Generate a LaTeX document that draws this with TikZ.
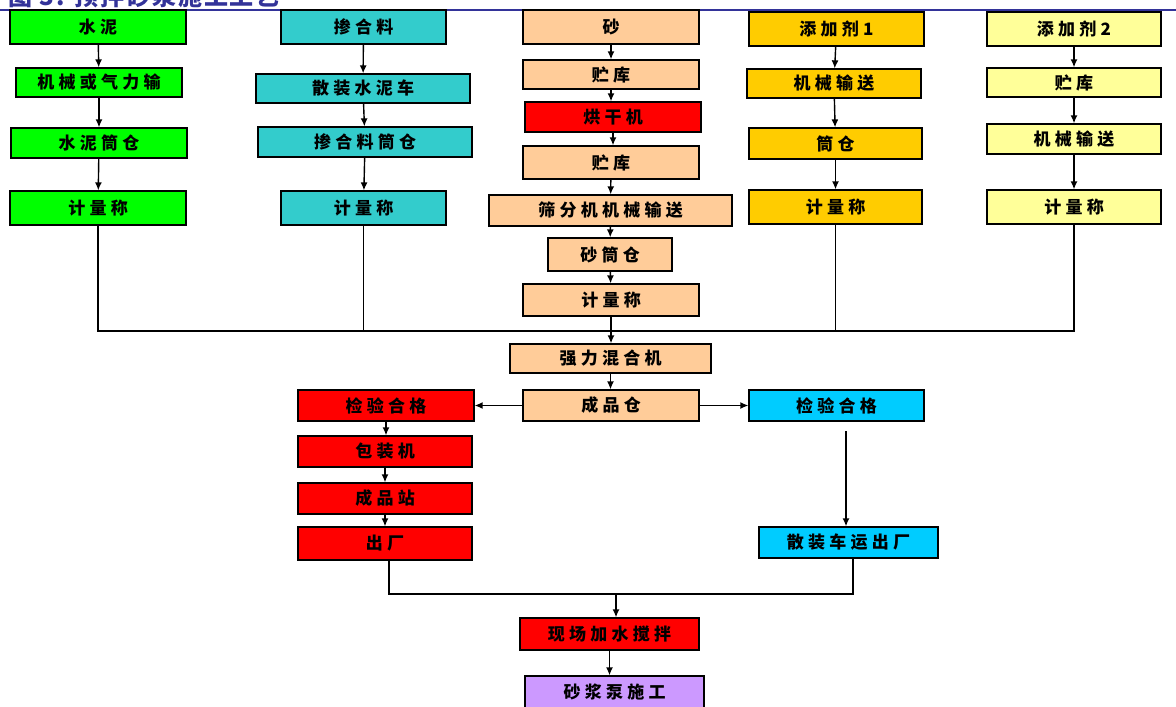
\documentclass[tikz,border=0pt]{standalone}
\usepackage{fontspec}
\setmainfont{Noto Sans CJK SC}[LetterSpace=25]
\newfontfamily\titlefont{Noto Sans CJK SC}[LetterSpace=8]
\usetikzlibrary{arrows.meta}
\definecolor{cgreen}{HTML}{00FF00}
\definecolor{cteal}{HTML}{33CCCC}
\definecolor{cpeach}{HTML}{FFCC99}
\definecolor{cred}{HTML}{FF0000}
\definecolor{cgold}{HTML}{FFCC00}
\definecolor{cyell}{HTML}{FFFF99}
\definecolor{csky}{HTML}{00CCFF}
\definecolor{cpurple}{HTML}{CC99FF}
\definecolor{ctitle}{HTML}{333399}
\tikzset{
  box/.style={draw=black, line width=1.3pt, inner sep=0pt, font=\bfseries\fontsize{17}{17}\selectfont},
  conn/.style={line width=1.4pt, black},
  arr/.style={conn, -{Latex[length=8pt,width=7pt]}}
}
\begin{document}
\begin{tikzpicture}[x=1pt,y=-1pt]
\useasboundingbox (0,0) rectangle (1176,707);
% title (partly cut off, as in the reference)
\node[anchor=south west, inner sep=0pt, text=ctitle, font=\titlefont\bfseries\fontsize{24}{24}\selectfont] (title) at (8,8) {图 3: 预拌砂浆施工工艺};
\draw[ctitle, line width=2pt] (0,9.5) -- (1176,9.5);
% column 1
\node[box, fill=cgreen, minimum width=176, minimum height=34] (c1) at (98,27) {水泥};
\node[box, fill=cgreen, minimum width=166, minimum height=29] (c2) at (99,82.5) {机械或气力输};
\node[box, fill=cgreen, minimum width=176, minimum height=30] (c3) at (99,143) {水泥筒仓};
\node[box, fill=cgreen, minimum width=176, minimum height=34] (c4) at (98,208) {计量称};
% column 2
\node[box, fill=cteal, minimum width=165, minimum height=34] (a1) at (363.5,27) {掺合料};
\node[box, fill=cteal, minimum width=214, minimum height=29] (a2) at (363,88.5) {散装水泥车};
\node[box, fill=cteal, minimum width=214, minimum height=30] (a3) at (365,142) {掺合料筒仓};
\node[box, fill=cteal, minimum width=165, minimum height=34] (a4) at (363.5,208) {计量称};
% column 3
\node[box, fill=cpeach, minimum width=176, minimum height=34] (s1) at (611,27) {砂};
\node[box, fill=cpeach, minimum width=176, minimum height=29] (s2) at (611,74.5) {贮库};
\node[box, fill=cred, minimum width=176, minimum height=30] (s3) at (613,117) {烘干机};
\node[box, fill=cpeach, minimum width=176, minimum height=33] (s4) at (611,162.5) {贮库};
\node[box, fill=cpeach, minimum width=243, minimum height=31] (s5) at (610.5,210.5) {筛分机机械输送};
\node[box, fill=cpeach, minimum width=124, minimum height=33] (s6) at (610,254.5) {砂筒仓};
\node[box, fill=cpeach, minimum width=176, minimum height=32] (s7) at (611,300) {计量称};
% column 4
\node[box, fill=cgold, minimum width=175, minimum height=34] (d1) at (836.5,29) {添加剂1};
\node[box, fill=cgold, minimum width=174, minimum height=29] (d2) at (834,83.5) {机械输送};
\node[box, fill=cgold, minimum width=173, minimum height=31] (d3) at (835.5,143.5) {筒仓};
\node[box, fill=cgold, minimum width=173, minimum height=34] (d4) at (835.5,207) {计量称};
% column 5
\node[box, fill=cyell, minimum width=174, minimum height=34] (e1) at (1074,29) {添加剂2};
\node[box, fill=cyell, minimum width=174, minimum height=29] (e2) at (1074,82.5) {贮库};
\node[box, fill=cyell, minimum width=174, minimum height=30] (e3) at (1074,139) {机械输送};
\node[box, fill=cyell, minimum width=174, minimum height=34] (e4) at (1074,207) {计量称};
% lower part
\node[box, fill=cpeach, minimum width=201, minimum height=29] (mix) at (610.5,358.5) {强力混合机};
\node[box, fill=cpeach, minimum width=176, minimum height=31] (store) at (611,405.5) {成品仓};
\node[box, fill=cred, minimum width=176, minimum height=31] (qL) at (386,405.5) {检验合格};
\node[box, fill=csky, minimum width=175, minimum height=31] (qR) at (836.5,405.5) {检验合格};
\node[box, fill=cred, minimum width=174, minimum height=31] (p1) at (385,451.5) {包装机};
\node[box, fill=cred, minimum width=174, minimum height=31] (p2) at (385,498.5) {成品站};
\node[box, fill=cred, minimum width=174, minimum height=33] (p3) at (385,543.5) {出厂};
\node[box, fill=csky, minimum width=179, minimum height=31] (bulk) at (848.5,542.5) {散装车运出厂};
\node[box, fill=cred, minimum width=179, minimum height=32] (site) at (609.5,634) {现场加水搅拌};
\node[box, fill=cpurple, minimum width=179, minimum height=32] (pump) at (614.5,692) {砂浆泵施工};
% column arrows
\draw[arr] (c1) -- (c2);
\draw[arr] (c2) -- (c3);
\draw[arr] (c3) -- (c4);
\draw[arr] (a1) -- (a2);
\draw[arr] (a2) -- (a3);
\draw[arr] (a3) -- (a4);
\draw[arr] (s1) -- (s2);
\draw[arr] (s2.south) -- (s3.north -| s2.south);
\draw[arr] (s3.south) -- (s4.north -| s3.south);
\draw[arr] (s4) -- (s5);
\draw[arr] (s5) -- (s6);
\draw[arr] (s6) -- (s7);
\draw[arr] (d1) -- (d2);
\draw[arr] (d2) -- (d3);
\draw[arr] (d3) -- (d4);
\draw[arr] (e1) -- (e2);
\draw[arr] (e2) -- (e3);
\draw[arr] (e3) -- (e4);
% bus
\coordinate (bus) at (611,331);
\draw[conn] (c4.south) -- (c4.south |- bus) -- (e4.south |- bus) -- (e4.south);
\draw[conn] (a4.south) -- (a4.south |- bus);
\draw[conn] (d4.south) -- (d4.south |- bus);
\draw[arr] (s7.south) -- (mix.north -| s7.south);
\draw[arr] (mix.south) -- (store.north -| mix.south);
\draw[arr] (store) -- (qL);
\draw[arr] (store) -- (qR);
\draw[arr] (qL.south) -- (p1.north -| qL.south);
\draw[arr] (p1) -- (p2);
\draw[arr] (p2) -- (p3);
\coordinate (gapR) at (846,431);
\draw[arr] (gapR) -- (gapR |- bulk.north);
% bottom bus
\coordinate (bus2) at (616,594);
\draw[conn] ([xshift=4pt]p3.south) -- ([xshift=4pt]p3.south |- bus2) -- ([xshift=4.5pt]bulk.south |- bus2) -- ([xshift=4.5pt]bulk.south);
\draw[arr] (bus2) -- (bus2 |- site.north);
\draw[arr] (site.south) -- (site.south |- pump.north);
\end{tikzpicture}
\end{document}
